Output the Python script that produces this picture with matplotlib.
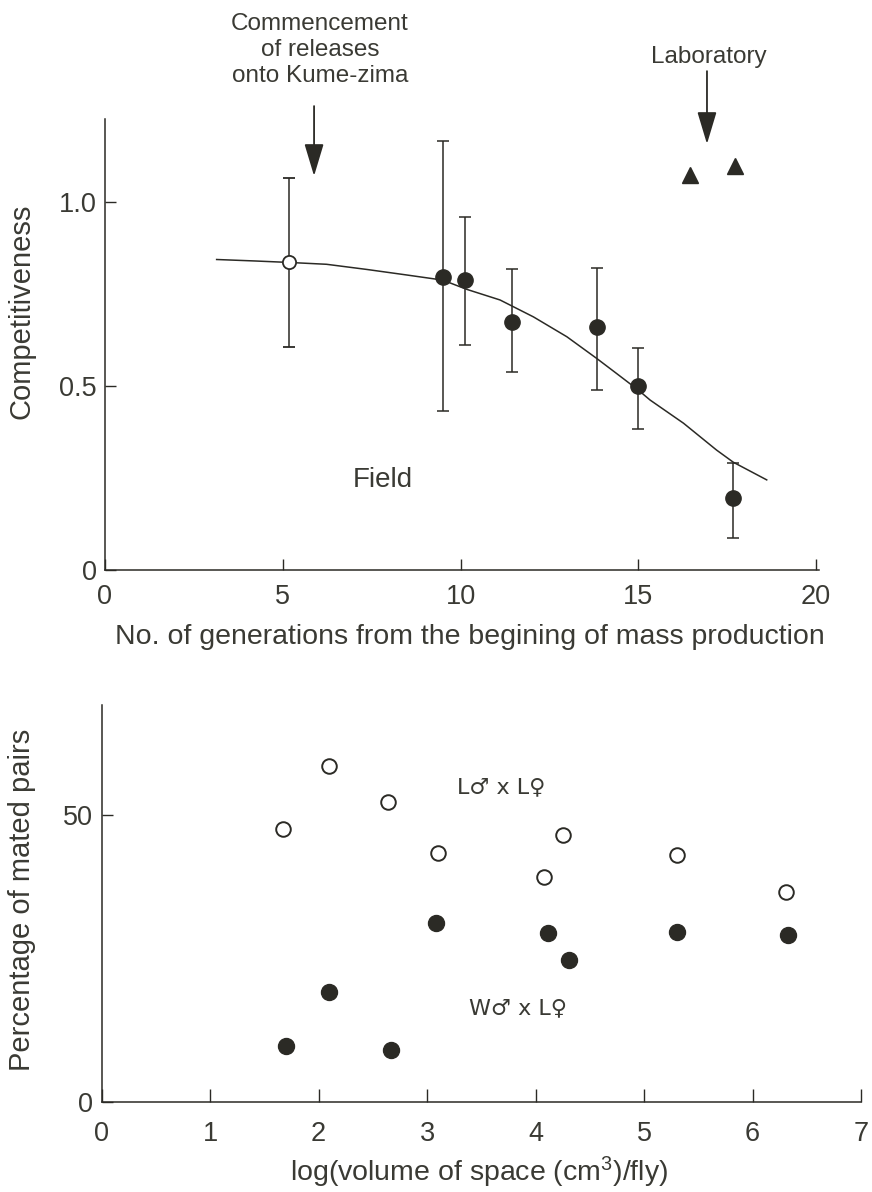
import matplotlib
matplotlib.use("Agg")
import matplotlib.pyplot as plt

plt.rcParams['font.family'] = ['Liberation Sans', 'DejaVu Sans']
plt.rcParams['mathtext.fontset'] = 'custom'
plt.rcParams['mathtext.rm'] = 'Liberation Sans'
plt.rcParams['mathtext.it'] = 'Liberation Sans'

INK = '#2b2a25'
TXT = '#3a3a34'

# --- top panel: competitiveness vs generations
field_open_x = [5.18]
field_open_y = [0.837]
field_open_lo = [0.606]
field_open_hi = [1.065]

field_x = [9.5, 10.13, 11.45, 13.83, 15.0, 17.67]
field_y = [0.797, 0.788, 0.674, 0.660, 0.500, 0.196]
field_lo = [0.432, 0.611, 0.538, 0.489, 0.383, 0.087]
field_hi = [1.166, 0.960, 0.818, 0.821, 0.603, 0.290]

lab_x = [16.46, 17.72]
lab_y = [1.073, 1.098]

# fitted curve
curve_x = [3.14, 4.22, 5.18, 6.23, 7.36, 8.48, 9.5, 10.17, 11.11, 12.05,
           12.99, 13.83, 14.39, 15.0, 15.33, 16.27, 17.20, 17.67, 18.61]
curve_y = [0.844, 0.840, 0.836, 0.831, 0.817, 0.802, 0.788, 0.763, 0.734,
           0.688, 0.634, 0.575, 0.534, 0.489, 0.462, 0.399, 0.326, 0.293,
           0.245]

# --- bottom panel: percentage of mated pairs
LL_x = [1.674, 2.095, 2.636, 3.10, 4.077, 4.255, 5.30, 6.313]
LL_y = [47.6, 58.6, 52.3, 43.4, 39.2, 46.6, 43.1, 36.6]

WL_x = [1.696, 2.095, 2.664, 3.078, 4.11, 4.31, 5.30, 6.33]
WL_y = [9.8, 19.1, 9.0, 31.2, 29.4, 24.8, 29.6, 29.1]

fig = plt.figure(figsize=(8.72, 11.92), dpi=100)
ax1 = fig.add_axes([0.1204, 0.5218, 0.8188, 0.3784])
ax2 = fig.add_axes([0.1166, 0.0758, 0.8708, 0.3328])


def style(ax):
    for s in ['top', 'right']:
        ax.spines[s].set_visible(False)
    for s in ['left', 'bottom']:
        ax.spines[s].set_color(INK)
        ax.spines[s].set_linewidth(1.1)
    ax.tick_params(direction='in', color=INK, width=1.0, labelcolor=TXT,
                   labelsize=19.5)
    ax.tick_params(axis='y', length=8, pad=6)


style(ax1)
ax1.tick_params(axis='x', length=8, pad=10)
ax1.set_xlim(0, 20.08)
ax1.set_ylim(0, 1.226)
ax1.set_xticks([0, 5, 10, 15, 20])
ax1.set_yticks([0, 0.5, 1.0])
ax1.set_yticklabels(['0', '0.5', '1.0'])

ax1.plot(curve_x, curve_y, color=INK, lw=1.1)
ax1.errorbar(field_open_x, field_open_y,
             yerr=[[a - b for a, b in zip(field_open_y, field_open_lo)],
                   [b - a for a, b in zip(field_open_y, field_open_hi)]],
             fmt='o', ms=9.5, mfc='white', mec=INK, mew=1.3,
             ecolor=INK, elinewidth=1.1, capsize=4, capthick=1.1, zorder=3)
ax1.errorbar(field_x, field_y,
             yerr=[[a - b for a, b in zip(field_y, field_lo)],
                   [b - a for a, b in zip(field_y, field_hi)]],
             fmt='o', ms=11, mfc=INK, mec=INK,
             ecolor=INK, elinewidth=1.1, capsize=4, capthick=1.1, zorder=3)
ax1.plot(lab_x, lab_y, '^', ms=12, color=INK, clip_on=False)

arrow = dict(arrowstyle='-|>,head_length=1.0,head_width=0.3', color=INK,
             lw=1.3, shrinkA=0, shrinkB=0, mutation_scale=20)
ax1.annotate('', xy=(5.88, 1.071), xytext=(5.88, 1.261),
             arrowprops=arrow, annotation_clip=False)
ax1.annotate('', xy=(16.93, 1.158), xytext=(16.93, 1.356),
             arrowprops=arrow, annotation_clip=False)
ax1.text(6.05, 1.413, 'Commencement\nof releases\nonto Kume-zima',
         ha='center', va='center', fontsize=17.5, color=TXT, linespacing=1.25)
ax1.text(16.99, 1.394, 'Laboratory', ha='center', va='center',
         fontsize=17.5, color=TXT)
ax1.text(6.98, 0.245, 'Field', ha='left', va='center', fontsize=20, color=TXT)

ax1.set_xlabel('No. of generations from the begining of mass production',
               fontsize=20.5, color=TXT, va='center')
ax1.xaxis.set_label_coords(0.511, -0.149)
ax1.set_ylabel('Competitiveness', fontsize=21, color=TXT, va='center')
ax1.yaxis.set_label_coords(-0.1176, 0.574)

style(ax2)
ax2.tick_params(axis='x', length=9.5, pad=14)
ax2.set_xlim(0, 7)
ax2.set_ylim(0, 69.3)
ax2.set_xticks(range(8))
ax2.set_yticks([0, 50])

ax2.plot(LL_x, LL_y, 'o', ms=10.5, mfc='white', mec=INK, mew=1.4)
ax2.plot(WL_x, WL_y, 'o', ms=11.5, mfc=INK, mec=INK)
ax2.text(3.28, 55.0, 'L\u2642 x L\u2640', ha='left', va='center',
         fontsize=16, color=TXT, family='DejaVu Sans')
ax2.text(3.39, 16.4, 'W\u2642 x L\u2640', ha='left', va='center',
         fontsize=16, color=TXT, family='DejaVu Sans')

ax2.set_xlabel('log(volume of space (cm$^3$)/fly)', fontsize=20.5,
               color=TXT, va='center')
ax2.xaxis.set_label_coords(0.4976, -0.178)
ax2.set_ylabel('Percentage of mated pairs', fontsize=21, color=TXT,
               va='center')
ax2.yaxis.set_label_coords(-0.105, 0.508)

fig.savefig('out.png', dpi=100)
